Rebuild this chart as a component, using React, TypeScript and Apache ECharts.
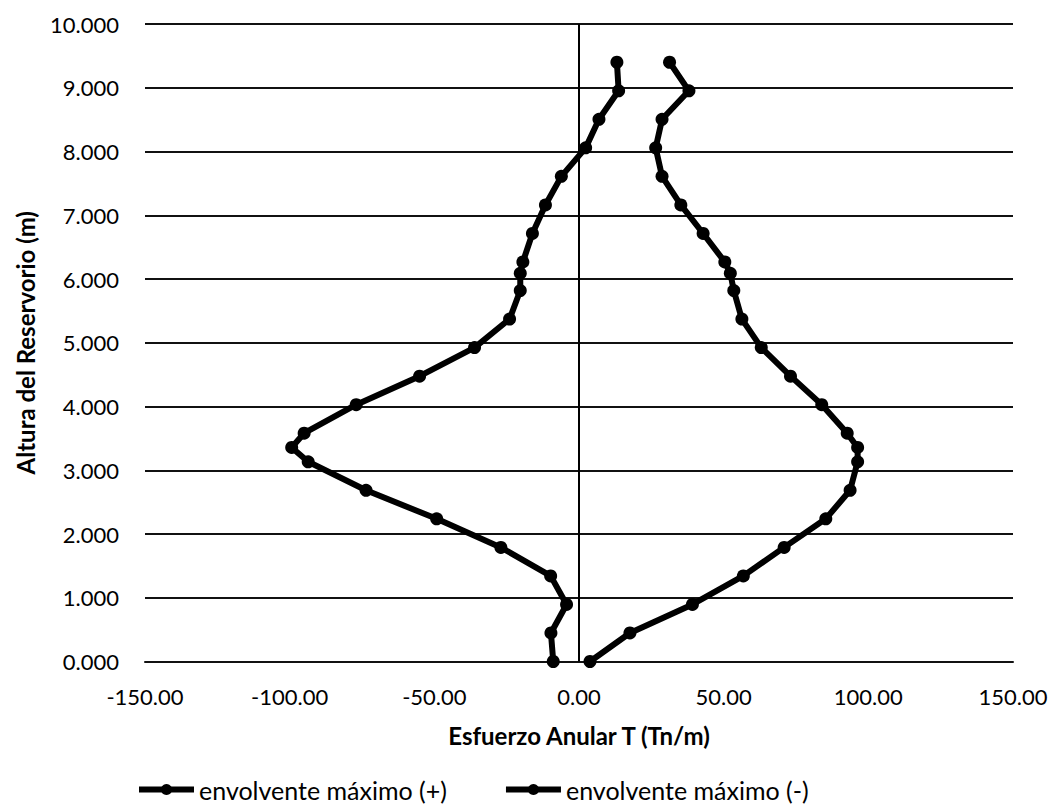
import React, { useEffect, useRef } from "react";
import * as echarts from "echarts";

// Heights (m) of the computed points
const heights: number[] = [
  0, 0.448, 0.895, 1.343, 1.79, 2.238, 2.686, 3.133, 3.357, 3.581, 4.029, 4.476,
  4.924, 5.371, 5.819, 6.09, 6.267, 6.714, 7.162, 7.61, 8.057, 8.505, 8.952, 9.4,
];

// Envolvente máximo (+) — hoop stress T (Tn/m)
const envPos: number[] = [
  -8.9, -9.7, -4.3, -9.8, -27.0, -49.2, -73.6, -93.6, -99.3, -95.0, -77.0, -55.1,
  -36.1, -24.0, -20.3, -20.3, -19.4, -16.1, -11.6, -6.1, 2.3, 6.9, 13.7, 13.1,
];

// Envolvente máximo (-) — hoop stress T (Tn/m)
const envNeg: number[] = [
  3.8, 17.6, 39.2, 56.8, 70.9, 85.3, 93.7, 96.3, 96.3, 92.7, 83.9, 73.1,
  63.0, 56.3, 53.5, 52.3, 50.4, 42.9, 35.2, 28.7, 26.5, 28.7, 38.0, 31.3,
];

const seriesNames: string[] = ["envolvente máximo (+)", "envolvente máximo (-)"];

const xAxisTitle = "Esfuerzo Anular T (Tn/m)";
const yAxisTitle = "Altura del Reservorio (m)";

const FONT = "Lato, 'Noto Sans', sans-serif";

export default function App() {
  const ref = useRef<HTMLDivElement>(null);

  useEffect(() => {
    document.body.style.margin = "0";
    if (!ref.current) return;
    const chart = echarts.init(ref.current, undefined, { renderer: "svg" });

    const toPairs = (xs: number[]) => xs.map((x, i) => [x, heights[i]]);

    const lineCommon = {
      type: "line" as const,
      symbol: "circle",
      symbolSize: 13,
      smooth: false,
      lineStyle: { color: "#000", width: 6 },
      itemStyle: { color: "#000" },
      emphasis: { disabled: true },
    };

    chart.setOption({
      animation: false,
      backgroundColor: "#fff",
      textStyle: { fontFamily: FONT, color: "#000" },
      grid: { left: 145, right: 40, top: 24, bottom: 142.5, containLabel: false },
      legend: {
        left: 136,
        top: 777,
        padding: 0,
        itemWidth: 55,
        itemHeight: 14,
        itemGap: 56,
        lineStyle: { width: 6, color: "#000" },
        itemStyle: { color: "#000" },
        textStyle: { fontFamily: FONT, fontSize: 25, color: "#000" },
        data: seriesNames,
      },
      xAxis: {
        type: "value",
        min: -150,
        max: 150,
        interval: 50,
        name: xAxisTitle,
        nameLocation: "middle",
        nameGap: 62,
        nameTextStyle: { fontFamily: FONT, fontSize: 24, fontWeight: "bold", color: "#000" },
        axisLine: { show: true, onZero: false, lineStyle: { color: "#111", width: 2 } },
        axisTick: { show: false },
        splitLine: { show: false },
        axisLabel: {
          margin: 24,
          fontSize: 22,
          color: "#000",
          fontFamily: FONT,
          formatter: (v: number) => v.toFixed(2),
        },
      },
      yAxis: {
        type: "value",
        min: 0,
        max: 10,
        interval: 1,
        name: yAxisTitle,
        nameLocation: "middle",
        nameGap: 108,
        nameTextStyle: { fontFamily: FONT, fontSize: 24, fontWeight: "bold", color: "#000" },
        axisLine: { show: false },
        axisTick: { show: false },
        splitLine: { show: true, lineStyle: { color: "#111", width: 2 } },
        axisLabel: {
          margin: 26,
          fontSize: 22,
          color: "#000",
          fontFamily: FONT,
          formatter: (v: number) => v.toFixed(3),
        },
      },
      series: [
        {
          ...lineCommon,
          name: seriesNames[0],
          data: toPairs(envPos),
          markLine: {
            silent: true,
            symbol: "none",
            label: { show: false },
            lineStyle: { color: "#000", width: 2, type: "solid" },
            data: [{ xAxis: 0 }],
            z: 1,
          },
        },
        {
          ...lineCommon,
          name: seriesNames[1],
          data: toPairs(envNeg),
        },
      ],
    });

    return () => chart.dispose();
  }, []);

  return (
    <div
      ref={ref}
      style={{ position: "absolute", left: 0, top: 0, width: 1053, height: 804, background: "#fff" }}
    />
  );
}
